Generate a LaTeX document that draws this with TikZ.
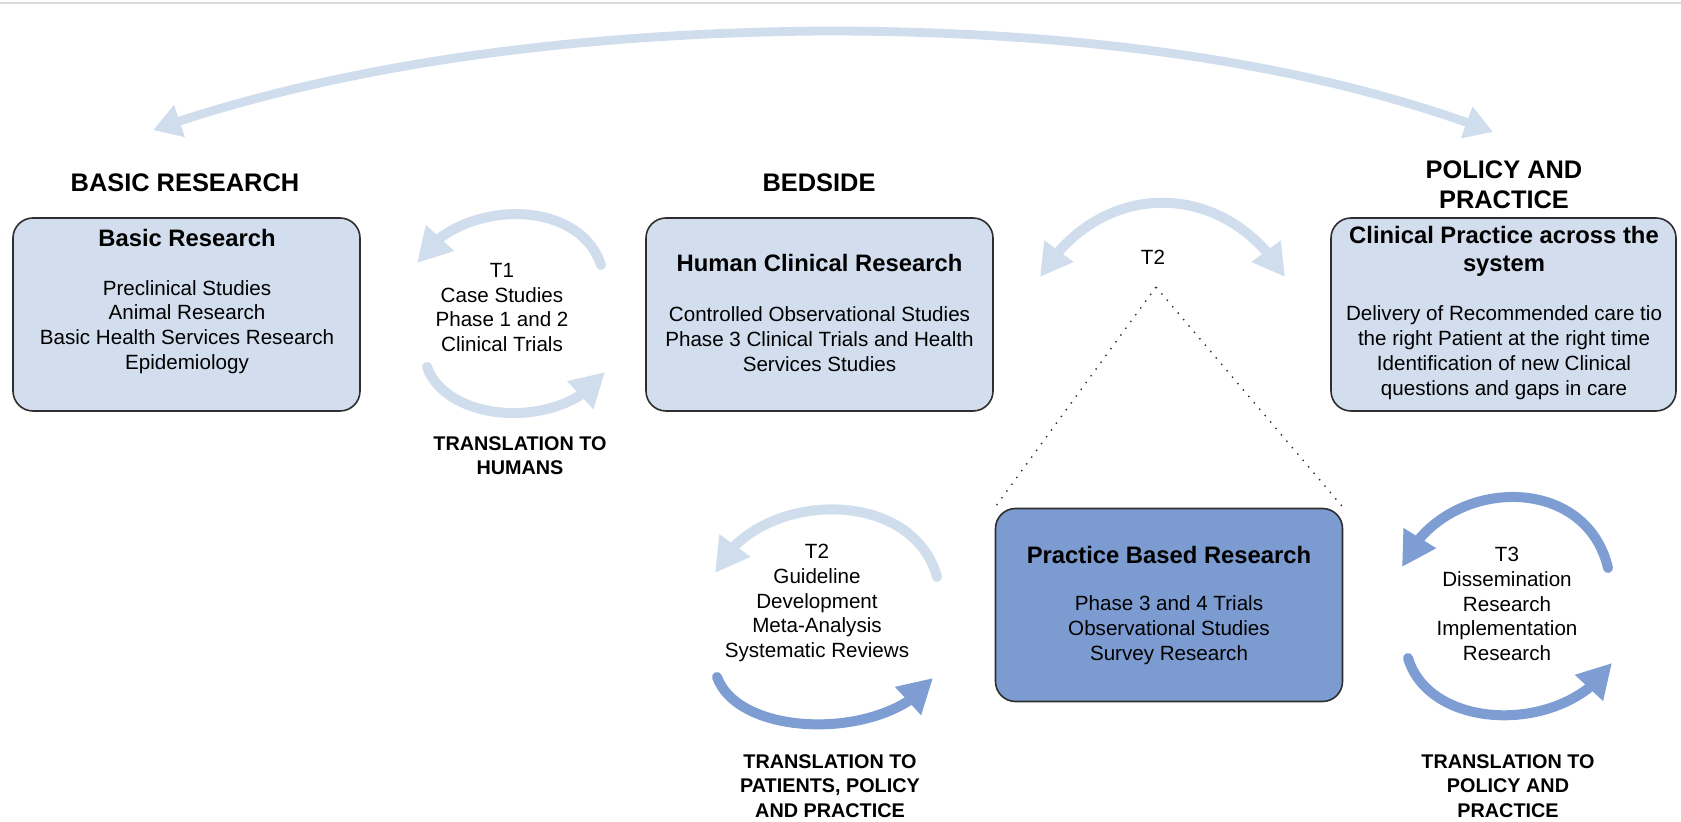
\documentclass[tikz,border=0pt]{standalone}
\usepackage{fontspec}
\setmainfont{Liberation Sans}
\usetikzlibrary{arrows.meta,bending}
\definecolor{boxfill}{HTML}{D2DEEE}
\definecolor{pbrfill}{HTML}{7B9BD1}
\definecolor{lightband}{HTML}{D0DDED}
\definecolor{midband}{HTML}{7D9DD3}
\definecolor{boxline}{HTML}{2E2E2E}
\definecolor{topgray}{HTML}{DADADA}
\begin{document}
\begin{tikzpicture}[x=0.5pt,y=-0.5pt,
  box/.style={draw=boxline, line width=0.8pt, rounded corners=10pt,
    minimum width=173.5pt, minimum height=96.5pt, inner sep=0pt},
  txt/.style={align=center, inner sep=0pt, font=\fontsize{10.3}{12.4}\selectfont},
  ttl/.style={align=center, inner sep=0pt, font=\bfseries\fontsize{11.9}{14}\selectfont},
  hdg/.style={align=center, inner sep=0pt, font=\bfseries\fontsize{12.7}{15}\selectfont},
  trl/.style={align=center, inner sep=0pt, font=\bfseries\fontsize{9.9}{12.3}\selectfont},
  band/.style={line width=5pt, line cap=round},
  tip/.style={-{Triangle[width=18pt,length=17pt]}},
  lband/.style={band, draw=lightband, tip},
  mband/.style={band, draw=midband, tip},
  dots/.style={draw=boxline, line width=0.7pt, dash pattern=on 0.7pt off 3.5pt}
]
\useasboundingbox (0,0) rectangle (1681,822);
\draw[topgray, line width=1pt] (0,3) -- (1681,3);

% headings
\node[hdg] (h1) at (185,183) {BASIC RESEARCH};
\node[hdg] (h2) at (819,183) {BEDSIDE};
\node[hdg] (h3) at (1504,185) {POLICY AND\\PRACTICE};

% boxes
\node[box, fill=boxfill] (basic) at (186.5,314.5) {};
\node[box, fill=boxfill] (human) at (819.5,314.5) {};
\node[box, fill=boxfill, minimum width=172.5pt] (clin) at (1503.5,314.5) {};
\node[box, fill=pbrfill] (pbr) at (1169,605) {};

% box texts
\node[ttl] (basicT) at (187,238) {Basic Research};
\node[txt] (basicB) at (187,327) {Preclinical Studies\\Animal Research\\Basic Health Services Research\\Epidemiology};
\node[ttl] (humanT) at (819.5,263) {Human Clinical Research};
\node[txt] (humanB) at (819.5,339) {Controlled Observational Studies\\Phase 3 Clinical Trials and Health\\Services Studies};
\node[ttl] (clinT) at (1504,251) {Clinical Practice across the\\system};
\node[txt] (clinB) at (1504,352.5) {Delivery of Recommended care tio\\the right Patient at the right time\\Identification of new Clinical\\questions and gaps in care};
\node[ttl] (pbrT) at (1169,555) {Practice Based Research};
\node[txt] (pbrB) at (1169,630) {Phase 3 and 4 Trials\\Observational Studies\\Survey Research};

% cycle labels
\node[txt] (t1) at (502,307.5) {T1\\Case Studies\\Phase 1 and 2\\Clinical Trials};
\node[trl] (t1tr) at (520,455.5) {TRANSLATION TO\\HUMANS};
\node[txt] (t2top) at (1153,257) {T2};
\node[txt] (t2) at (817,603) {T2\\Guideline\\Development\\Meta-Analysis\\Systematic Reviews};
\node[trl] (t2tr) at (830,786) {TRANSLATION TO\\PATIENTS, POLICY\\AND PRACTICE};
\node[txt] (t3) at (1507,604) {T3\\Dissemination\\Research\\Implementation\\Research};
\node[trl] (t3tr) at (1508,786) {TRANSLATION TO\\POLICY AND\\PRACTICE};

% big top arc
\coordinate (bigL) at (153,130);
\coordinate (bigM) at (825,31);
\coordinate (bigR) at (1493,132);
\draw[line width=4.4pt, line cap=round, draw=lightband, {Triangle[width=16pt,length=14pt]}-{Triangle[width=16pt,length=14pt]}]
  (bigL) .. controls (325,70) and (550,33) .. (bigM)
  .. controls (1110,31) and (1330,70) .. (bigR);

% T2 top double arrow
\coordinate (t2L) at (1040,277);
\coordinate (t2R) at (1285,277);
\draw[band, draw=lightband, {Triangle[width=17pt,length=16pt]}-{Triangle[width=17pt,length=16pt]}]
  (t2L) .. controls (1100,178) and (1225,178) .. (t2R);

% T1 cycle
\coordinate (t1ua) at (601,265);
\coordinate (t1ub) at (417,263);
\draw[lband] (t1ua) .. controls (578,195) and (455,200) .. (t1ub);
\coordinate (t1la) at (427,367);
\coordinate (t1lb) at (605,372);
\draw[lband] (t1la) .. controls (448,425) and (565,430) .. (t1lb);

% T2 cycle
\coordinate (t2ua) at (937,577);
\coordinate (t2ub) at (715,573);
\draw[lband] (t2ua) .. controls (912,485) and (755,490) .. (t2ub);
\coordinate (t2la) at (717,677);
\coordinate (t2lb) at (933,678);
\draw[mband] (t2la) .. controls (740,740) and (890,740) .. (t2lb);

% T3 cycle
\coordinate (t3ua) at (1608,568);
\coordinate (t3ub) at (1402,567);
\draw[mband] (t3ua) .. controls (1585,470) and (1440,477) .. (t3ub);
\coordinate (t3la) at (1408,658);
\coordinate (t3lb) at (1612,663);
\draw[mband] (t3la) .. controls (1430,732) and (1565,735) .. (t3lb);

% dotted zoom lines
\coordinate (apex) at (1156,287);
\draw[dots] (apex) -- (pbr.north west);
\draw[dots] (apex) -- (pbr.north east);
\end{tikzpicture}
\end{document}
